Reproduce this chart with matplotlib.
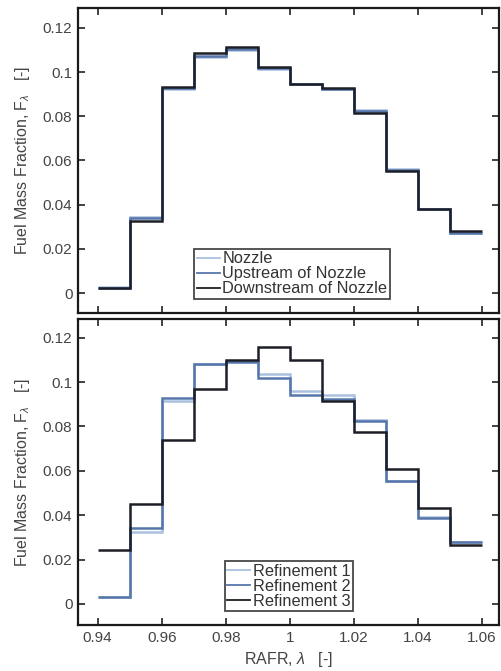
import numpy as np
import matplotlib.pyplot as plt

# RAFR bin edges (12 bins of width 0.01)
edges = np.round(np.arange(0.94, 1.0601, 0.01), 2)

# fuel mass fraction per bin - nozzle comparison
nozzle = [0.0028, 0.0345, 0.0925, 0.1070, 0.1100, 0.1015, 0.0945, 0.0922, 0.0830, 0.0560, 0.0380, 0.0270]
upstream = [0.0025, 0.0340, 0.0928, 0.1075, 0.1105, 0.1018, 0.0945, 0.0925, 0.0826, 0.0558, 0.0380, 0.0272]
downstream = [0.0023, 0.0328, 0.0934, 0.1088, 0.1113, 0.1023, 0.0947, 0.0927, 0.0816, 0.0551, 0.0382, 0.0282]

# mesh refinement comparison
ref1 = [0.0029, 0.0326, 0.0917, 0.1083, 0.1095, 0.1036, 0.0962, 0.0940, 0.0830, 0.0556, 0.0394, 0.0280]
ref2 = [0.0029, 0.0344, 0.0928, 0.1083, 0.1092, 0.1020, 0.0943, 0.0925, 0.0824, 0.0555, 0.0387, 0.0278]
ref3 = [0.0244, 0.0450, 0.0740, 0.0968, 0.1100, 0.1160, 0.1100, 0.0916, 0.0777, 0.0609, 0.0434, 0.0266]

top_labels = ["Nozzle", "Upstream of Nozzle", "Downstream of Nozzle"]
bot_labels = ["Refinement 1", "Refinement 2", "Refinement 3"]
colors = ["#a9c0de", "#5676ab", "#1c1f27"]

plt.rcParams['font.family'] = ['Liberation Sans', 'DejaVu Sans']
plt.rcParams['mathtext.fontset'] = 'custom'
plt.rcParams['mathtext.rm'] = 'Liberation Sans'
plt.rcParams['mathtext.it'] = 'Liberation Sans:italic'

fig = plt.figure(figsize=(5.01, 6.71), dpi=100)
ax1 = fig.add_axes([0.1557, 0.534, 0.841, 0.454])
ax2 = fig.add_axes([0.1557, 0.0686, 0.841, 0.4555])

yticks = [0, 0.02, 0.04, 0.06, 0.08, 0.1, 0.12]
ytick_labels = ["0", "0.02", "0.04", "0.06", "0.08", "0.1", "0.12"]
xticks = [0.94, 0.96, 0.98, 1.0, 1.02, 1.04, 1.06]
xtick_labels = ["0.94", "0.96", "0.98", "1", "1.02", "1.04", "1.06"]

for ax, series, labels, ylim, lx in [(ax1, [nozzle, upstream, downstream], top_labels, (-0.0089, 0.129), 0.508),
                                     (ax2, [ref1, ref2, ref3], bot_labels, (-0.0095, 0.1283), 0.5)]:
    for vals, c, lab in zip(series, colors, labels):
        ax.stairs(vals, edges, baseline=None, color=c, linewidth=1.8, label=lab)
    ax.set_xlim(0.93386, 1.0654)
    ax.set_ylim(*ylim)
    ax.set_yticks(yticks)
    ax.set_yticklabels(ytick_labels)
    ax.set_xticks(xticks)
    ax.tick_params(direction='in', top=True, right=True, length=5, width=1.2,
                   labelsize=11, colors='#222222', labelcolor='#444444', pad=4)
    for s in ax.spines.values():
        s.set_linewidth(1.6)
        s.set_color('#1a1a1a')
    ax.set_ylabel(r"Fuel Mass Fraction, F$_{\lambda}$   [-]", fontsize=11.5, color='#444444', labelpad=8)
    leg = ax.legend(loc='lower center', bbox_to_anchor=(lx, 0.0),
                    fontsize=11.8, frameon=True, fancybox=False, handlelength=1.4,
                    handletextpad=0.15, borderpad=0.15, labelspacing=0.0, borderaxespad=0.85)
    leg.get_frame().set_edgecolor('#1a1a1a')
    leg.get_frame().set_linewidth(1.3)
    for h in leg.get_lines():
        h.set_linewidth(1.3)
    for t in leg.get_texts():
        t.set_color('#333333')

ax1.set_xticklabels([])
ax2.set_xticklabels(xtick_labels)
ax2.set_xlabel(r"RAFR, $\lambda$   [-]", fontsize=11.5, color='#444444', labelpad=4)

fig.savefig("out.png", dpi=100)
